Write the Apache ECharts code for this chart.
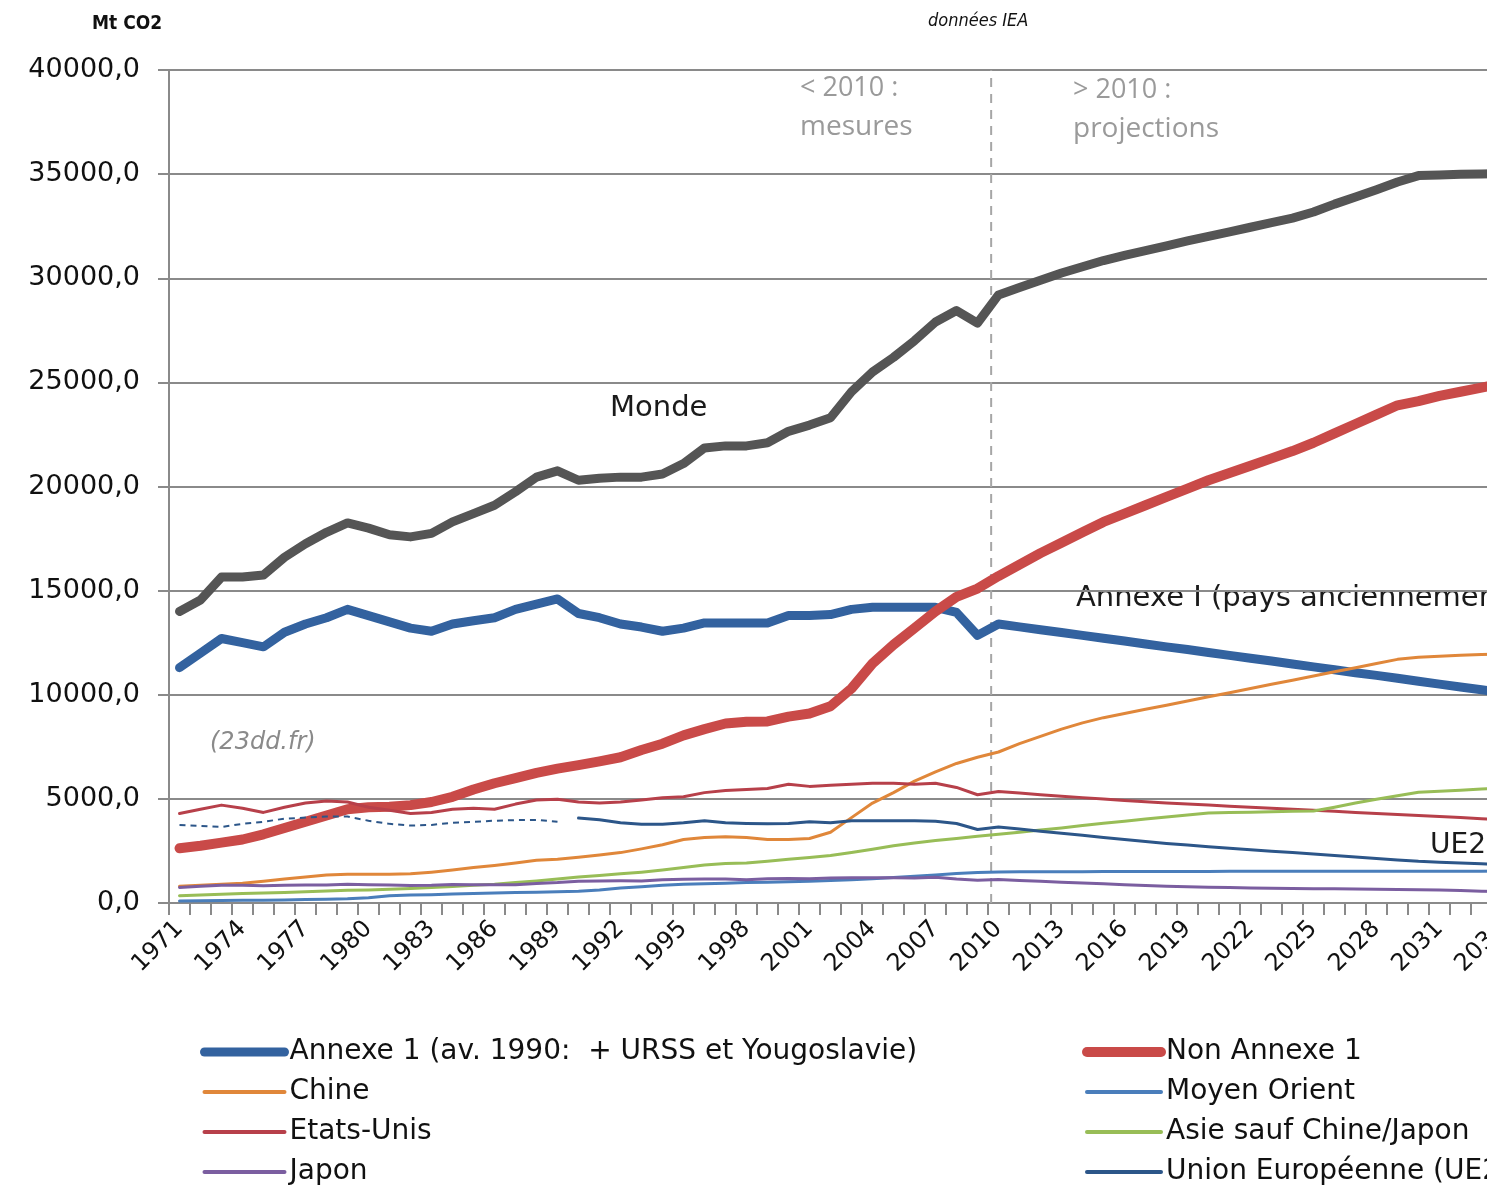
<!DOCTYPE html>
<html><head><meta charset="utf-8">
<script src="https://cdn.jsdelivr.net/npm/echarts@6/dist/echarts.min.js"></script>
<style>html,body{margin:0;padding:0;background:#fff;overflow:hidden;width:1487px;height:1185px}#c{width:1560px;height:1260px}</style>
</head><body><div id="c"></div><script>
const years = ['1971','1972','1973','1974','1975','1976','1977','1978','1979','1980',
'1981','1982','1983','1984','1985','1986','1987','1988','1989','1990',
'1991','1992','1993','1994','1995','1996','1997','1998','1999','2000',
'2001','2002','2003','2004','2005','2006','2007','2008','2009','2010',
'2011','2012','2013','2014','2015','2016','2017','2018','2019','2020',
'2021','2022','2023','2024','2025','2026','2027','2028','2029','2030',
'2031','2032','2033','2034','2035'];

const monde = [14000,14550,15650,15650,15750,16600,17250,17800,18250,18000,
17680,17580,17750,18300,18700,19100,19750,20450,20750,20300,
20400,20450,20450,20600,21100,21850,21950,21950,22100,22650,
22950,23300,24550,25500,26200,27000,27900,28450,27850,29200,
29550,29900,30250,30550,30850,31100,31330,31560,31790,32010,
32230,32450,32670,32890,33180,33560,33900,34250,34620,34930,
34960,34990,35010,35030,35050];

const annexe1 = [11300,12000,12700,12500,12300,13000,13400,13700,14100,13800,
13500,13200,13050,13400,13550,13700,14100,14350,14600,13900,
13700,13400,13250,13050,13200,13450,13450,13450,13450,13800,
13800,13850,14100,14200,14200,14200,14200,13950,12850,13400,
13260,13120,12990,12850,12710,12580,12440,12300,12170,12030,
11890,11750,11620,11480,11340,11200,11060,10930,10790,10650,
10510,10370,10240,10100,9960];

const nonAnnexe1 = [2630,2750,2900,3050,3300,3600,3900,4200,4500,4600,
4620,4700,4850,5100,5450,5750,6000,6250,6450,6620,
6800,7000,7350,7650,8050,8350,8620,8700,8720,8950,
9100,9450,10300,11500,12400,13200,14000,14700,15100,15700,
16250,16800,17300,17800,18300,18700,19100,19500,19900,20300,
20650,21000,21350,21700,22100,22550,23000,23450,23900,24100,
24350,24550,24750,24950,25150];

const chine = [800,850,900,950,1050,1150,1250,1350,1380,1380,
1380,1400,1480,1580,1700,1800,1920,2050,2100,2200,
2300,2420,2600,2800,3050,3150,3180,3150,3050,3050,
3100,3400,4100,4800,5300,5850,6300,6700,7000,7250,
7650,8000,8350,8650,8900,9100,9300,9500,9700,9900,
10100,10300,10500,10700,10900,11100,11300,11500,11700,11800,
11850,11900,11930,11960,12000];

const moyenOrient = [100,110,120,130,130,150,170,180,200,250,
350,380,400,430,460,480,500,520,540,560,
620,720,780,850,900,920,950,980,1000,1020,
1040,1080,1120,1170,1220,1290,1350,1420,1470,1490,
1500,1500,1505,1505,1510,1510,1510,1515,1515,1515,
1520,1520,1520,1520,1525,1525,1525,1525,1530,1530,
1530,1530,1530,1535,1535];

const etatsUnis = [4300,4500,4700,4550,4350,4600,4800,4900,4850,4600,
4450,4300,4350,4500,4550,4500,4750,4950,4980,4850,
4800,4850,4950,5050,5100,5300,5400,5450,5500,5700,
5600,5650,5700,5750,5750,5700,5750,5550,5200,5350,
5280,5200,5130,5060,4990,4920,4860,4800,4750,4700,
4650,4600,4550,4500,4450,4400,4350,4300,4250,4200,
4150,4100,4050,4000,3950];

const asie = [350,380,420,460,480,510,540,580,610,630,
660,700,740,790,850,900,980,1060,1150,1250,
1320,1400,1480,1580,1700,1820,1900,1920,2000,2100,
2180,2280,2420,2580,2750,2880,3000,3100,3200,3300,
3400,3500,3600,3720,3830,3930,4030,4130,4230,4320,
4340,4360,4380,4400,4420,4600,4800,4980,5150,5320,
5370,5420,5470,5520,5560];

const japon = [750,800,850,850,830,850,870,870,900,880,
860,840,850,890,880,880,880,940,980,1050,
1060,1070,1060,1120,1140,1150,1150,1120,1160,1180,
1170,1200,1210,1210,1210,1200,1240,1150,1090,1130,
1080,1040,1000,960,920,880,840,800,780,760,
740,720,710,700,690,680,670,660,650,640,
620,600,570,550,530];

const ue27 = [null,null,null,null,null,null,null,null,null,null,
null,null,null,null,null,null,null,null,null,4080,
4000,3850,3780,3780,3850,3950,3850,3820,3800,3820,
3900,3850,3950,3950,3950,3950,3920,3820,3530,3650,
3550,3450,3350,3250,3150,3050,2950,2860,2780,2700,
2630,2560,2490,2420,2350,2280,2210,2140,2070,2000,
1960,1920,1880,1840,1800];

const ue27Avant1990 = [3750,3700,3650,3800,3900,4050,4100,4150,4150,3950,
3800,3720,3750,3850,3900,3950,3980,3990,3900];

// limite mesures / projections (position sur l'axe des années)
const limite = [[2009.65, 0], [2009.65, 40000]];

const yTicks = {min: 0, max: 40000, interval: 5000};

const names = {
  annexe1: 'Annexe 1 (av. 1990:  + URSS et Yougoslavie)',
  nonAnnexe1: 'Non Annexe 1',
  chine: 'Chine',
  moyenOrient: 'Moyen Orient',
  etatsUnis: 'Etats-Unis',
  asie: 'Asie sauf Chine/Japon',
  japon: 'Japon',
  ue27: 'Union Européenne (UE27)'
};

const FONT = '"DejaVu Sans", Verdana, sans-serif';
const GRID = '#8a8a8a';

function line(name, data, color, width, extra) {
  return Object.assign({
    name, type: 'line', data, symbol: 'none', showSymbol: false,
    connectNulls: false, animation: false,
    lineStyle: {color, width, cap: 'round', join: 'round'},
    itemStyle: {color},
    emphasis: {disabled: true}
  }, extra || {});
}

const thin = n => ({name: n, lineStyle: {width: 4}});

const legendCommon = {
  orient: 'vertical', itemHeight: 14, itemGap: 12, height: 220, padding: 0,
  itemStyle: {opacity: 0},
  lineStyle: {width: 'inherit', cap: 'round'},
  textStyle: {fontSize: 28, fontFamily: FONT, color: '#111', lineHeight: 28}
};

const chart = echarts.init(document.getElementById('c'), null, {renderer: 'canvas'});
chart.setOption({
  backgroundColor: '#ffffff',
  animation: false,
  grid: {left: 169, top: 70, width: 1365, height: 833, containLabel: false},
  xAxis: [{
    type: 'category', data: years, boundaryGap: true,
    axisLine: {show: true, lineStyle: {color: GRID, width: 2}},
    axisTick: {show: true, interval: 0, length: 12, lineStyle: {color: GRID, width: 2}},
    axisLabel: {interval: 2, rotate: 45, margin: 22, fontSize: 24, fontFamily: FONT, color: '#111'},
    splitLine: {show: false}
  }, {
    type: 'value', min: 1970.5, max: 2035.5, show: false, splitLine: {show: false}
  }],
  yAxis: {
    type: 'value', min: yTicks.min, max: yTicks.max, interval: yTicks.interval,
    axisLine: {show: true, lineStyle: {color: GRID, width: 2}},
    axisTick: {show: true, length: 11, lineStyle: {color: GRID, width: 2}},
    axisLabel: {margin: 29, fontSize: 27, fontFamily: FONT, color: '#111',
      formatter: v => v.toFixed(1).replace('.', ',')},
    splitLine: {show: true, lineStyle: {color: GRID, width: 2}}
  },
  legend: [
    Object.assign({left: 200, top: 1038, itemWidth: 80,
      data: [names.annexe1, thin(names.chine), thin(names.etatsUnis), thin(names.japon)]}, legendCommon),
    Object.assign({left: 1082, top: 1038, itemWidth: 74,
      data: [names.nonAnnexe1, thin(names.moyenOrient), thin(names.asie), thin(names.ue27)]}, legendCommon)
  ],
  series: [
    line('limite', limite, '#a6a6a6', 2, {xAxisIndex: 1, lineStyle: {color: '#a6a6a6', width: 2, type: [9, 7]}}),
    line(names.annexe1, annexe1, '#33629f', 9),
    line(names.nonAnnexe1, nonAnnexe1, '#c94a48', 10),
    line(names.chine, chine, '#e0873a', 3),
    line(names.moyenOrient, moyenOrient, '#4a7ebb', 3),
    line(names.etatsUnis, etatsUnis, '#b7404a', 3),
    line(names.asie, asie, '#98bd57', 3),
    line(names.japon, japon, '#7b5ea0', 3),
    line(names.ue27, ue27, '#2c5689', 3),
    line('UE27 avant 1990', ue27Avant1990, '#2c5689', 2, {lineStyle: {color: '#2c5689', width: 2, type: [6, 5]}}),
    line('Monde', monde, '#555555', 9)
  ],
  graphic: [
    {type: 'text', left: 92, top: 15, style: {text: 'Mt CO2', font: 'bold 19px "DejaVu Sans Condensed", sans-serif', fill: '#111'}},
    {type: 'text', left: 928, top: 12, style: {text: 'données IEA', font: 'italic 18px "DejaVu Sans Condensed", sans-serif', fill: '#111'}},
    {type: 'text', left: 800, top: 75, style: {text: '< 2010 :', font: '27px "Open Sans", sans-serif', fill: '#9a9a9a'}},
    {type: 'text', left: 800, top: 113, style: {text: 'mesures', font: '28px "Open Sans", sans-serif', fill: '#9a9a9a'}},
    {type: 'text', left: 1073, top: 77, style: {text: '> 2010 :', font: '27px "Open Sans", sans-serif', fill: '#9a9a9a'}},
    {type: 'text', left: 1073, top: 115, style: {text: 'projections', font: '28px "Open Sans", sans-serif', fill: '#9a9a9a'}},
    {type: 'text', left: 610, top: 394, style: {text: 'Monde', font: '29px ' + FONT, fill: '#1a1a1a'}},
    {type: 'text', left: 1076, top: 584, style: {text: 'Annexe I (pays anciennement industrialisés)', font: '29px ' + FONT, fill: '#1a1a1a'}},
    {type: 'text', left: 1430, top: 832, style: {text: 'UE27', font: '28px ' + FONT, fill: '#1a1a1a'}},
    {type: 'text', left: 210, top: 731, style: {text: '(23dd.fr)', font: 'italic 24px ' + FONT, fill: '#8a8a8a'}}
  ]
});
</script></body></html>
